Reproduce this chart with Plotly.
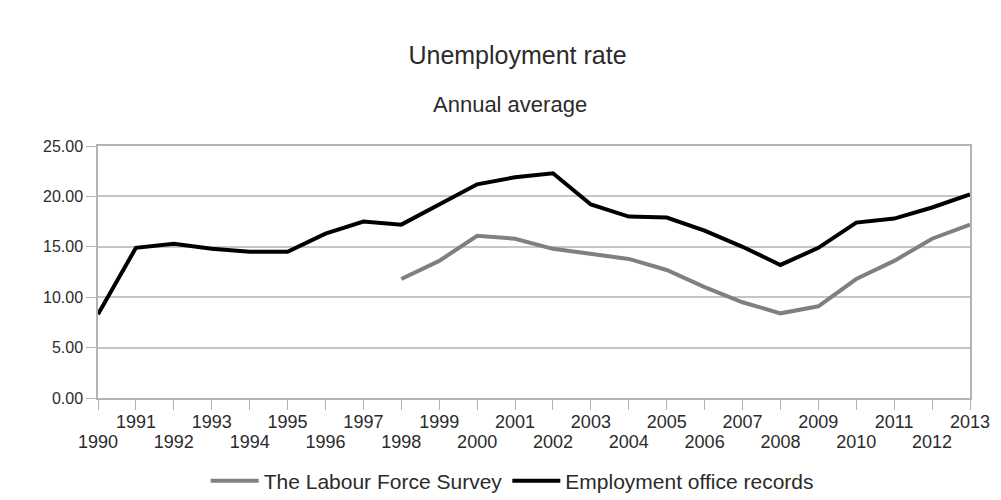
import plotly.graph_objects as go

# Annual average unemployment rate, 1990-2013
years = list(range(1990, 2014))

labour_force_survey = [None, None, None, None, None, None, None, None,
                       11.8, 13.6, 16.1, 15.8, 14.8, 14.3, 13.8, 12.7,
                       11.0, 9.5, 8.4, 9.1, 11.8, 13.6, 15.8, 17.2]

employment_office = [8.3, 14.9, 15.3, 14.8, 14.5, 14.5, 16.3, 17.5,
                     17.2, 19.2, 21.2, 21.9, 22.3, 19.2, 18.0, 17.9,
                     16.6, 15.0, 13.2, 14.9, 17.4, 17.8, 18.9, 20.2]

y_ticks = [0, 5, 10, 15, 20, 25]

# year labels are staggered: odd years on the first row, even years below
odd_labels = [str(y) if y % 2 else "" for y in years]
even_years = [y for y in years if y % 2 == 0]
even_labels = [str(y) for y in even_years]

FONT = "Liberation Sans"
TEXT = "#2b2b2b"
GRID = "#c6c6c6"
AXIS = "#b3b3b3"
TICKFONT = dict(family=FONT, size=18, color=TEXT)

fig = go.Figure()
fig.add_trace(go.Scatter(
    x=years, y=labour_force_survey, mode="lines",
    name="The Labour Force Survey",
    line=dict(color="#808080", width=4),
))
fig.add_trace(go.Scatter(
    x=years, y=employment_office, mode="lines",
    name="Employment office records",
    line=dict(color="#000000", width=4),
))
# empty trace that anchors the second label row axis
fig.add_trace(go.Scatter(
    x=years, y=employment_office, mode="none", xaxis="x2",
    showlegend=False, hoverinfo="skip",
))

fig.update_layout(
    width=1001, height=500,
    paper_bgcolor="white", plot_bgcolor="white",
    margin=dict(l=98, r=31, t=146, b=102, autoexpand=False),
    font=dict(family=FONT, color=TEXT, size=16),
    title=dict(text="Unemployment rate", x=0.517, xanchor="center",
               y=0.89, yanchor="middle", yref="container",
               font=dict(family=FONT, size=25, color=TEXT)),
    annotations=[dict(text="Annual average", xref="paper", yref="paper",
                      x=0.473, y=1.165, xanchor="center", yanchor="middle",
                      showarrow=False,
                      font=dict(family=FONT, size=22, color=TEXT))],
    legend=dict(orientation="h", xanchor="center", x=0.475,
                yanchor="middle", y=-0.33,
                font=dict(family=FONT, size=21, color=TEXT),
                itemwidth=48, tracegroupgap=0),
    showlegend=True,
    xaxis=dict(
        range=[years[0], years[-1]], automargin=False,
        tickmode="array", tickvals=years, ticktext=odd_labels, tickangle=0,
        ticks="outside", ticklen=10, tickcolor=AXIS, ticklabelstandoff=-3,
        showgrid=False, showline=True, linecolor=AXIS, linewidth=1.5,
        mirror=True, zeroline=False, tickfont=TICKFONT,
    ),
    xaxis2=dict(
        range=[years[0], years[-1]], automargin=False,
        overlaying="x", side="bottom", anchor="y",
        tickmode="array", tickvals=even_years, ticktext=even_labels,
        tickangle=0, ticks="", ticklabelstandoff=31,
        showgrid=False, showline=False, zeroline=False, tickfont=TICKFONT,
    ),
    yaxis=dict(
        range=[0, 25], automargin=False, tickmode="array", tickvals=y_ticks,
        tickformat=".2f",
        ticks="outside", ticklen=10, tickcolor=AXIS,
        showgrid=True, gridcolor=GRID, gridwidth=1.5,
        showline=True, linecolor=AXIS, linewidth=1.5, mirror=True,
        zeroline=False, tickfont=dict(family=FONT, size=16, color=TEXT),
    ),
)

fig.write_html("out.html")
